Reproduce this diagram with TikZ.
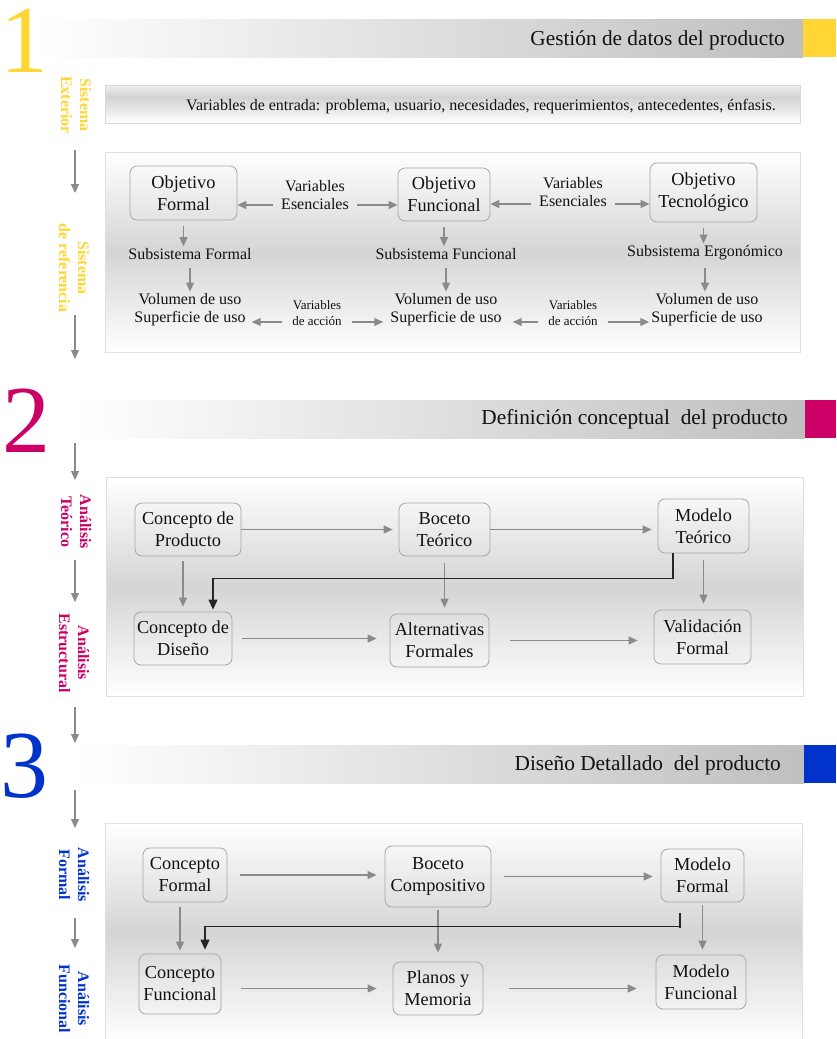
\documentclass[tikz,border=0pt]{standalone}
\usepackage{fontspec}
\setmainfont{Liberation Serif}
\usetikzlibrary{arrows.meta,calc,positioning}
\definecolor{amarillo}{HTML}{FFD633}
\definecolor{rosa}{HTML}{CC0066}
\definecolor{azul}{HTML}{0033CC}
\definecolor{flecha}{HTML}{8A8A8A}
\definecolor{texto}{HTML}{111111}

\begin{document}
\begin{tikzpicture}[x=1pt,y=-1pt,
  ga/.style={draw=flecha,line width=1.1pt,-{Triangle[length=9pt,width=8pt]}},
  fb/.style={draw=black!85,line width=1.1pt,-{Triangle[length=10pt,width=9pt]}},
  caja/.style={draw=gray!70,line width=0.8pt,rounded corners=7pt,align=center,text=texto,
    font={\fontsize{18.3}{22}\selectfont},inner sep=0pt},
  txt/.style={align=center,text=texto,font={\fontsize{16}{18}\selectfont},inner sep=2pt},
  var/.style={align=center,text=texto,font={\fontsize{16}{18.3}\selectfont},inner xsep=8pt},
  acc/.style={align=center,text=texto,font={\fontsize{13}{15.7}\selectfont},inner xsep=10pt},
  lado/.style={rotate=-90,align=center,font={\bfseries\fontsize{16}{19}\selectfont},inner sep=0pt},
  digito/.style={anchor=base,inner sep=0pt,text height=66pt,font={\fontsize{96}{96}\selectfont}},
  titulo/.style={anchor=base east,inner sep=0pt,text=texto,font={\fontsize{21.3}{24}\selectfont}},
  panel/.style={draw=gray!25,line width=0.8pt,top color=white,bottom color=white,middle color=gray!33}]
  \clip (0,0) rectangle (836,1039);
  \fill[white] (0,0) rectangle (836,1039);

  % barras de titulo
  \foreach \y/\xi/\xc/\col/\yb/\xt/\tit [count=\i] in
      {19/35/803/amarillo/45.5/785/{Gestión de datos del producto},
       400/75/805/rosa/424/788/{Definición conceptual\ \ del producto},
       745/77/804/azul/770.5/781/{Diseño Detallado\ \ del producto}}{
    \shade[left color=white,right color=gray!50] (\xi,\y) rectangle (\xc,\y+38);
    \fill[\col] (\xc,\y) rectangle (836,\y+38);
    \node[titulo] (tit\i) at (\xt,\yb) {\tit};
  }
  \node[digito,text=amarillo] (n1) at (24,72) {1};
  \node[digito,text=rosa] (n2) at (26.5,452) {2};
  \node[digito,text=azul] (n3) at (25,797) {3};

  % columna izquierda
  \node[lado,text=amarillo] (sext) at (76,105) {Sistema\\Exterior};
  \node[lado,text=amarillo] (sref) at (74,268) {Sistema\\de referencia};
  \node[lado,text=rosa] (ateo) at (76,522) {Análisis\\Teórico};
  \node[lado,text=rosa] (aest) at (74,653) {Análisis\\Estructural};
  \node[lado,text=azul] (afor) at (74,875) {Análisis\\Formal};
  \node[lado,text=azul] (afun) at (74,999) {Análisis\\Funcional};
  \foreach \ya/\yb [count=\i] in {150/193,315/359,443/480,560/602,707/743,790/828,918/948}{
    \coordinate (ia\i) at (75,\ya);
    \coordinate (ib\i) at (75,\yb);
    \draw[ga] (ia\i) -- (ib\i);
  }

  % 1: datos del producto
  \shade[top color=gray!12,bottom color=gray!35] (105,85) rectangle (800,97);
  \shade[top color=gray!35,bottom color=white] (105,97) rectangle (800,123);
  \draw[gray!30,line width=0.8pt] (105,85) rectangle (800,123);
  \node[txt,anchor=base,font={\fontsize{16}{18}\selectfont}] (ent) at (481,110)
    {Variables de entrada: problema, usuario, necesidades, requerimientos, antecedentes, énfasis.};
  \shade[panel] (105,152) rectangle (800,352);

  \node[caja,minimum width=107pt,minimum height=54pt] (of) at (183.5,193) {Objetivo\\Formal};
  \node[caja,minimum width=92pt,minimum height=53pt] (ofu) at (444,194.5) {Objetivo\\Funcional};
  \node[caja,minimum width=107pt,minimum height=59pt] (ot) at (703.5,192.5) {Objetivo\\Tecnológico};
  \node[var] (ve1) at (315,195) {Variables\\Esenciales};
  \node[var] (ve2) at (573,192) {Variables\\Esenciales};
  \node[txt] (sf) at (190,254) {Subsistema Formal};
  \node[txt] (sfu) at (446,254) {Subsistema Funcional};
  \node[txt] (se) at (705,253) {Subsistema Ergonómico};
  \node[txt] (vf) at (190,310) {Volumen de uso\\Superficie de uso};
  \node[txt] (vfu) at (446,310) {Volumen de uso\\Superficie de uso};
  \node[txt] (vte) at (707,310) {Volumen de uso\\Superficie de uso};
  \node[acc] (va1) at (317,313) {Variables\\de acción};
  \node[acc] (va2) at (573,313) {Variables\\de acción};

  \path (ve1.west) ++(0,10) coordinate (ve1l);
  \path (ve1.east) ++(0,10) coordinate (ve1r);
  \path (ve2.west) ++(0,12) coordinate (ve2l);
  \path (ve2.east) ++(0,12) coordinate (ve2r);
  \draw[ga] (ve1l) -- (ve1l -| of.east);
  \draw[ga] (ve1r) -- (ve1r -| ofu.west);
  \draw[ga] (ve2l) -- (ve2l -| ofu.east);
  \draw[ga] (ve2r) -- (ve2r -| ot.west);
  \path (va1.west) ++(0,9) coordinate (va1l);
  \path (va1.east) ++(0,9) coordinate (va1r);
  \path (va2.west) ++(0,9) coordinate (va2l);
  \path (va2.east) ++(0,9) coordinate (va2r);
  \draw[ga,shorten >=4pt] (va1l) -- (va1l -| vf.east);
  \draw[ga,shorten >=5pt] (va1r) -- (va1r -| vfu.west);
  \draw[ga,shorten >=9pt] (va2l) -- (va2l -| vfu.east);
  \draw[ga] (va2r) -- (va2r -| vte.west);
  \foreach \a/\b in {of/sf,sf/vf,ofu/sfu,sfu/vfu,ot/se,se/vte}
    \draw[ga,shorten <=6pt] (\a.south) -- (\a.south |- \b.north);

  % 2: definicion conceptual
  \shade[panel] (106,477) rectangle (803,696);
  \node[caja,minimum width=106pt,minimum height=53pt] (cp) at (188,529.5) {Concepto de\\Producto};
  \node[caja,minimum width=91pt,minimum height=53pt] (bt) at (444.5,529.5) {Boceto\\Teórico};
  \node[caja,minimum width=91pt,minimum height=54pt] (mt) at (703.5,526) {Modelo\\Teórico};
  \node[caja,minimum width=98pt,minimum height=53pt] (cd) at (183,638.5) {Concepto de\\Diseño};
  \node[caja,minimum width=99pt,minimum height=53pt] (alt) at (439.5,640.5) {Alternativas\\Formales};
  \node[caja,minimum width=97pt,minimum height=54pt] (vf2) at (702.5,637) {Validación\\Formal};

  \draw[ga,shorten >=6pt] (cp.east) -- (cp.east -| bt.west);
  \draw[ga,shorten >=6pt] (bt.east) -- (bt.east -| mt.west);
  \draw[ga,shorten <=10pt,shorten >=13pt] (cd.east) -- (cd.east -| alt.west);
  \draw[ga,shorten <=21pt,shorten >=16pt] (alt.east) -- (alt.east -| vf2.west);
  \draw[ga,shorten <=5pt,shorten >=5pt] (cd.north |- cp.south) -- (cd.north);
  \draw[ga,shorten <=7pt,shorten >=6pt] (bt.south) -- (bt.south |- alt.north);
  \draw[ga,shorten <=7pt,shorten >=6pt] (mt.south) -- (mt.south |- vf2.north);
  \draw[fb] ([xshift=-30.5pt]mt.south) -- ++(0,25) -| ([xshift=30pt,yshift=2pt]cd.north);

  % 3: diseno detallado
  \shade[panel] (105,823) rectangle (802,1042);
  \node[caja,minimum width=84pt,minimum height=54pt] (cf) at (185,875) {Concepto\\Formal};
  \node[caja,minimum width=106pt,minimum height=61pt] (bc) at (438,876.5) {Boceto\\Compositivo};
  \node[caja,minimum width=83pt,minimum height=53pt] (mf) at (702.5,875.5) {Modelo\\Formal};
  \node[caja,minimum width=82pt,minimum height=60pt] (cfu) at (180,984) {Concepto\\Funcional};
  \node[caja,minimum width=90pt,minimum height=53pt] (pm) at (438,988.5) {Planos y\\Memoria};
  \node[caja,minimum width=90pt,minimum height=54pt] (mfu) at (701,982) {Modelo\\Funcional};

  \draw[ga,shorten <=13pt,shorten >=8pt] (cf.east) -- (cf.east -| bc.west);
  \draw[ga,shorten <=13pt,shorten >=8pt] (bc.east) -- (bc.east -| mf.west);
  \draw[ga,shorten <=20pt,shorten >=16pt] (cfu.east |- pm.west) -- (pm.west);
  \draw[ga,shorten <=26pt,shorten >=19pt] (pm.east) -- (pm.east -| mfu.west);
  \draw[ga,shorten <=5pt,shorten >=3pt] (cfu.north |- cf.south) -- (cfu.north);
  \draw[ga,shorten <=3pt,shorten >=9pt] (bc.south) -- (bc.south |- pm.north);
  \draw[ga,shorten <=3pt,shorten >=5pt] (mf.south) -- (mf.south |- mfu.north);
  \draw[fb] ([xshift=-22.5pt,yshift=-11pt]mf.south) -- ++(0,15) ++(0,-2)
    -| ([xshift=25pt,yshift=4pt]cfu.north);
\end{tikzpicture}
\end{document}
